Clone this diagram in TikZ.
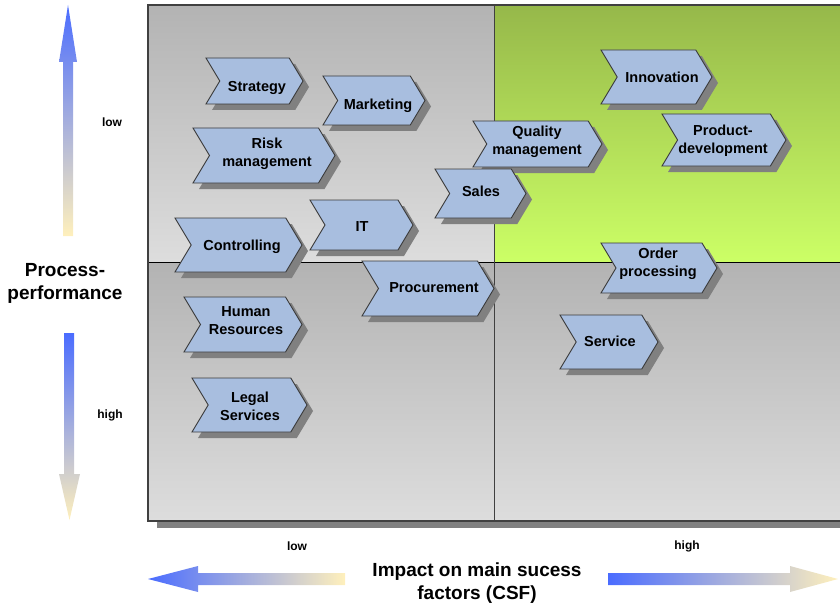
\documentclass[tikz,border=0pt]{standalone}
\usepackage{fontspec}
\setmainfont{Liberation Sans}
\usetikzlibrary{calc}
\definecolor{chevfill}{HTML}{A8BEDF}
\definecolor{chevline}{HTML}{3A3A3A}
\definecolor{shadowc}{HTML}{808080}
\definecolor{gtop}{HTML}{B3B3B3}
\definecolor{gbot}{HTML}{DDDDDD}
\definecolor{greentop}{HTML}{96B84A}
\definecolor{greenbot}{HTML}{CCFF66}
\definecolor{arrblue}{HTML}{4A6CFF}
\definecolor{arryellow}{HTML}{FFF0BC}
\definecolor{framec}{HTML}{404040}
\tikzset{
  chevbox/.style={fill=chevfill, draw=chevline, line width=0.9pt, line join=miter},
  chevtext/.style={font=\bfseries\fontsize{14.5}{18}\selectfont, align=center, inner sep=0pt},
  smalllab/.style={font=\bfseries\fontsize{12}{14}\selectfont, inner sep=0pt},
  axistitle/.style={font=\bfseries\fontsize{19}{23}\selectfont, align=center, inner sep=0pt},
}
% name, x1, ytop, xtip, ybottom, text x, text y, text
\newcommand\chev[8]{%
  \pgfmathsetmacro\chd{0.3*(#5-#3)}%
  \pgfmathsetmacro\chm{(#3+#5)/2}%
  \fill[shadowc] (#2+6,#3+6) -- ({#4-\chd+6},#3+6) -- (#4+6,\chm+6) -- ({#4-\chd+6},#5+6) -- (#2+6,#5+6) -- ({#2+\chd+6},\chm+6) -- cycle;
  \draw[chevbox] (#2,#3) -- ({#4-\chd},#3) -- (#4,\chm) -- ({#4-\chd},#5) -- (#2,#5) -- ({#2+\chd},\chm) -- cycle;
  \node[chevtext] (#1) at (#6,#7) {#8};
}
\begin{document}
\begin{tikzpicture}[x=1pt,y=-1pt]
\useasboundingbox (0,0) rectangle (840,607);
\clip (0,0) rectangle (840,607);
% frame shadow
\fill[shadowc] (157,521) rectangle (850,528);
% quadrants
\shade[top color=gtop, bottom color=gbot] (148,5) rectangle (494.5,262);
\shade[top color=greentop, bottom color=greenbot] (494.5,5) rectangle (850,262);
\shade[top color=gtop, bottom color=gbot] (148,262) rectangle (494.5,521);
\shade[top color=gtop, bottom color=gbot] (494.5,262) rectangle (850,521);
\draw[black, line width=1pt] (148,262) -- (850,262);
\draw[framec, line width=1.2pt] (494.5,5) -- (494.5,521);
\draw[framec, line width=1.5pt] (850,5) -- (148,5) -- (148,521) -- (850,521);
% chevrons
\chev{strategy}{206}{58}{303}{104}{257}{88}{Strategy}
\chev{marketing}{323}{76}{425}{125}{378}{106}{Marketing}
\chev{risk}{193}{128}{335}{183}{267}{153.5}{Risk\\management}
\chev{innovation}{601}{50}{712}{104}{662}{77}{Innovation}
\chev{product}{662}{114}{786}{166}{723}{141}{Product-\\development}
\chev{quality}{473}{121}{602}{167}{537}{142}{Quality\\management}
\chev{sales}{435}{169}{526}{218}{481}{191}{Sales}
\chev{it}{310}{200}{413}{250}{362}{227}{IT}
\chev{controlling}{175}{218}{302}{272}{242}{247}{Controlling}
\chev{procurement}{362}{261}{494}{316}{434}{288}{Procurement}
\chev{order}{601}{243}{717}{293}{658}{264}{Order\\processing}
\chev{hr}{184}{297}{302}{352}{246}{321}{Human\\Resources}
\chev{service}{560}{315}{658}{369}{610}{341}{Service}
\chev{legal}{192}{378}{307}{432}{250}{406}{Legal\\Services}
% vertical arrows
\shade[top color=arrblue, bottom color=arryellow]
  (63,236) -- (63,62) -- (59,62) -- (68,5) -- (77,62) -- (73,62) -- (73,236) -- cycle;
\shade[top color=arrblue, bottom color=arryellow]
  (64,333) -- (74,333) -- (74,474) -- (80,474) -- (69.5,520) -- (59,474) -- (64,474) -- cycle;
% horizontal arrows
\shade[left color=arrblue, right color=arryellow]
  (148,579) -- (198,566) -- (198,573) -- (345,573) -- (345,585) -- (198,585) -- (198,592) -- cycle;
\shade[left color=arrblue, right color=arryellow]
  (608,573) -- (790,573) -- (790,566) -- (838,579) -- (790,592) -- (790,585) -- (608,585) -- cycle;
% labels
\node[smalllab] (vlow) at (112,122) {low};
\node[smalllab] (vhigh) at (110,415) {high};
\node[smalllab] (hlow) at (297,546) {low};
\node[smalllab] (hhigh) at (687,546) {high};
\node[axistitle] (ytitle) at (65,283) {Process-\\performance};
\node[axistitle] (xtitle) at (477,583) {Impact on main sucess\\factors (CSF)};
\end{tikzpicture}
\end{document}
